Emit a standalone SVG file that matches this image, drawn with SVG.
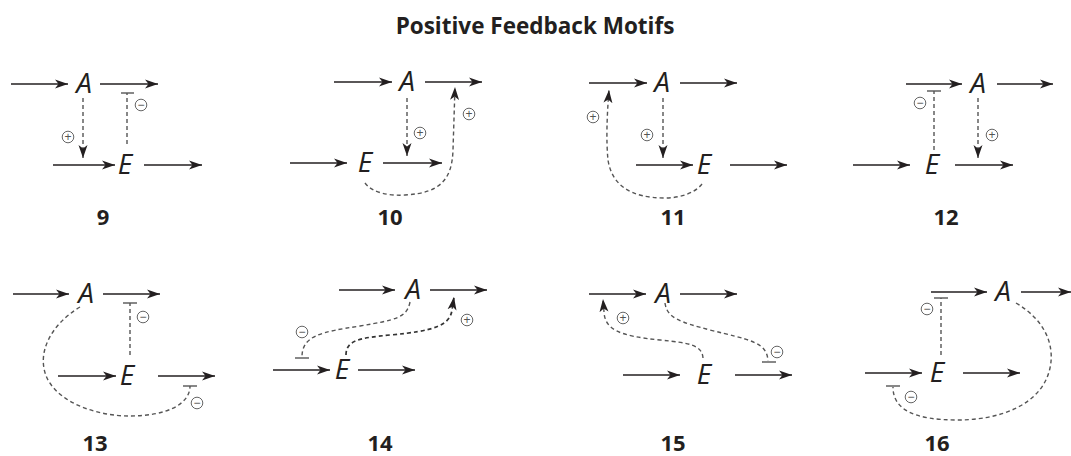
<svg xmlns="http://www.w3.org/2000/svg" width="1071" height="456" viewBox="0 0 1071 456">
<style>
.bg{fill:#fff}
.title{font-family:"Open Sans","Liberation Sans",sans-serif;font-weight:bold;font-size:22.5px;fill:#231f20;text-anchor:middle}
.num{font-family:"Open Sans","Liberation Sans",sans-serif;font-weight:bold;font-size:22px;fill:#231f20;text-anchor:middle}
.lbl{font-family:"Open Sans","Liberation Sans",sans-serif;font-style:italic;font-size:28px;fill:#231f20;text-anchor:middle}
.sc{fill:#fff;stroke:#666;stroke-width:1}
.sym{font-family:"Liberation Sans",sans-serif;font-size:12px;fill:#555;text-anchor:middle;dominant-baseline:central}
.flow{stroke:#231f20;stroke-width:1.4;fill:none;marker-end:url(#ah)}
.dash{stroke:#555;stroke-width:1.4;fill:none;stroke-dasharray:4 3}
.darr{marker-end:url(#ah)}
.bar{stroke:#555;stroke-width:1.4;fill:none}
</style>
<defs>
<marker id="ah" markerWidth="14" markerHeight="10" refX="13" refY="5" orient="auto" markerUnits="userSpaceOnUse">
<path d="M0,0.5 L13,5 L0,9.5 L3.5,5 Z" fill="#231f20"/>
</marker>
<circle id="sc" r="5.8" class="sc"/>
</defs>
<rect class="bg" x="0" y="0" width="1071" height="456"/>
<text class="title" x="535" y="34">Positive Feedback Motifs</text>

<!-- Motif 9 -->
<g id="m9">
<g id="m9-A"><text class="lbl" x="84" y="93">A</text></g>
<g id="m9-E"><text class="lbl" x="125" y="174">E</text></g>
<text class="num" x="103" y="225">9</text>
</g>
<!-- Motif 10 -->
<g id="m10">
<g id="m10-A"><text class="lbl" x="407" y="91">A</text></g>
<g id="m10-E"><text class="lbl" x="365" y="172">E</text></g>
<text class="num" x="390" y="225">10</text>
</g>
<!-- Motif 11 -->
<g id="m11">
<g id="m11-A"><text class="lbl" x="662" y="92">A</text></g>
<g id="m11-E"><text class="lbl" x="704" y="174">E</text></g>
<text class="num" x="673" y="225">11</text>
</g>
<!-- Motif 12 -->
<g id="m12">
<g id="m12-A"><text class="lbl" x="978" y="93">A</text></g>
<g id="m12-E"><text class="lbl" x="932" y="174">E</text></g>
<text class="num" x="946" y="225">12</text>
</g>
<!-- Motif 13 -->
<g id="m13">
<g id="m13-A"><text class="lbl" x="86" y="303">A</text></g>
<g id="m13-E"><text class="lbl" x="127" y="385">E</text></g>
<text class="num" x="95" y="451">13</text>
</g>
<!-- Motif 14 -->
<g id="m14">
<g id="m14-A"><text class="lbl" x="413" y="299">A</text></g>
<g id="m14-E"><text class="lbl" x="342" y="379">E</text></g>
<text class="num" x="380" y="451">14</text>
</g>
<!-- Motif 15 -->
<g id="m15">
<g id="m15-A"><text class="lbl" x="663" y="303">A</text></g>
<g id="m15-E"><text class="lbl" x="704" y="384">E</text></g>
<text class="num" x="673" y="451">15</text>
</g>
<!-- Motif 16 -->
<g id="m16">
<g id="m16-A"><text class="lbl" x="1003" y="301">A</text></g>
<g id="m16-E"><text class="lbl" x="937" y="382">E</text></g>
<text class="num" x="937" y="451">16</text>
</g>

<g id="connectors">
<!-- 9 -->
<line class="flow" x1="11" y1="84" x2="68" y2="84"/>
<line class="flow" x1="100" y1="84" x2="158" y2="84"/>
<line class="flow" x1="53" y1="165" x2="115" y2="165"/>
<line class="flow" x1="144" y1="165" x2="202" y2="165"/>
<line class="dash darr" x1="83" y1="98" x2="83" y2="158"/>
<line class="dash" x1="127" y1="144" x2="127" y2="93"/>
<line class="bar" x1="121" y1="93" x2="134" y2="93"/>
<!-- 10 -->
<line class="flow" x1="334" y1="82" x2="392" y2="82"/>
<line class="flow" x1="425" y1="82" x2="482" y2="82"/>
<line class="flow" x1="290" y1="163" x2="347" y2="163"/>
<line class="flow" x1="383" y1="163" x2="442" y2="163"/>
<line class="dash darr" x1="407" y1="98" x2="407" y2="156"/>
<path class="dash darr" d="M365,183 C372,193 390,196 405,195 C440,193 452,180 453,150 L455,87"/>
<!-- 11 -->
<line class="flow" x1="589" y1="83" x2="647" y2="83"/>
<line class="flow" x1="680" y1="83" x2="737" y2="83"/>
<line class="flow" x1="636" y1="165" x2="693" y2="165"/>
<line class="flow" x1="730" y1="165" x2="787" y2="165"/>
<line class="dash darr" x1="663" y1="98" x2="663" y2="158"/>
<path class="dash darr" d="M702,184 C695,193 680,198 665,198 C630,198 612,185 608,160 C606,140 607,115 609,90"/>
<!-- 12 -->
<line class="flow" x1="906" y1="84" x2="962" y2="84"/>
<line class="flow" x1="997" y1="84" x2="1053" y2="84"/>
<line class="flow" x1="853" y1="165" x2="910" y2="165"/>
<line class="flow" x1="955" y1="165" x2="1013" y2="165"/>
<line class="dash" x1="934" y1="150" x2="934" y2="91"/>
<line class="bar" x1="927" y1="91" x2="941" y2="91"/>
<line class="dash darr" x1="978" y1="98" x2="978" y2="158"/>
<!-- 13 -->
<line class="flow" x1="13" y1="294" x2="69" y2="294"/>
<line class="flow" x1="103" y1="294" x2="160" y2="294"/>
<line class="flow" x1="58" y1="376" x2="116" y2="376"/>
<line class="flow" x1="158" y1="376" x2="215" y2="376"/>
<line class="dash" x1="130" y1="355" x2="130" y2="303"/>
<line class="bar" x1="123" y1="303" x2="137" y2="303"/>
<path class="dash" d="M80,307 C50,325 35,355 48,380 C62,405 100,416 130,416 C165,416 190,405 190,386"/>
<line class="bar" x1="183" y1="386" x2="197" y2="386"/>
<!-- 14 -->
<line class="flow" x1="339" y1="290" x2="395" y2="290"/>
<line class="flow" x1="430" y1="290" x2="487" y2="290"/>
<line class="flow" x1="273" y1="370" x2="330" y2="370"/>
<line class="flow" x1="358" y1="370" x2="415" y2="370"/>
<path class="dash" d="M410,302 C407,318 395,320 360,326 C320,332 302,336 302,357"/>
<line class="bar" x1="295" y1="358" x2="309" y2="358"/>
<path class="dash darr" style="stroke:#333;stroke-width:1.7" d="M346,355 C346,340 360,338 390,335 C435,331 450,325 452,310 L454,297"/>
<!-- 15 -->
<line class="flow" x1="589" y1="294" x2="646" y2="294"/>
<line class="flow" x1="680" y1="294" x2="737" y2="294"/>
<line class="flow" x1="623" y1="375" x2="680" y2="375"/>
<line class="flow" x1="735" y1="375" x2="792" y2="375"/>
<path class="dash darr" d="M703,358 C702,345 690,343 660,340 C620,336 605,330 604,312 L603,299"/>
<path class="dash" d="M665,303 C667,318 680,322 710,330 C750,340 767,342 768,361"/>
<line class="bar" x1="762" y1="362" x2="776" y2="362"/>
<!-- 16 -->
<line class="flow" x1="931" y1="292" x2="987" y2="292"/>
<line class="flow" x1="1021" y1="292" x2="1071" y2="292"/>
<line class="flow" x1="865" y1="373" x2="922" y2="373"/>
<line class="flow" x1="963" y1="373" x2="1020" y2="373"/>
<line class="dash" x1="941" y1="355" x2="941" y2="298"/>
<line class="bar" x1="934" y1="298" x2="948" y2="298"/>
<path class="dash" d="M1016,303 C1045,320 1055,345 1050,368 C1042,405 1000,420 957,420 C915,420 893,410 893,387"/>
<line class="bar" x1="886" y1="386" x2="900" y2="386"/>
</g>

<g id="signs">
<use href="#sc" x="68" y="137"/><text class="sym" x="68" y="137">+</text>
<use href="#sc" x="141" y="105"/><text class="sym" x="141" y="105">−</text>
<use href="#sc" x="420" y="133"/><text class="sym" x="420" y="133">+</text>
<use href="#sc" x="469" y="114"/><text class="sym" x="469" y="114">+</text>
<use href="#sc" x="647" y="135"/><text class="sym" x="647" y="135">+</text>
<use href="#sc" x="593" y="117"/><text class="sym" x="593" y="117">+</text>
<use href="#sc" x="920" y="103"/><text class="sym" x="920" y="103">−</text>
<use href="#sc" x="992" y="135"/><text class="sym" x="992" y="135">+</text>
<use href="#sc" x="143" y="317"/><text class="sym" x="143" y="317">−</text>
<use href="#sc" x="197" y="403"/><text class="sym" x="197" y="403">−</text>
<use href="#sc" x="302" y="332"/><text class="sym" x="302" y="332">−</text>
<use href="#sc" x="467" y="320"/><text class="sym" x="467" y="320">+</text>
<use href="#sc" x="623" y="318"/><text class="sym" x="623" y="318">+</text>
<use href="#sc" x="777" y="352"/><text class="sym" x="777" y="352">−</text>
<use href="#sc" x="927" y="309"/><text class="sym" x="927" y="309">−</text>
<use href="#sc" x="911" y="397"/><text class="sym" x="911" y="397">−</text>
</g>
</svg>
